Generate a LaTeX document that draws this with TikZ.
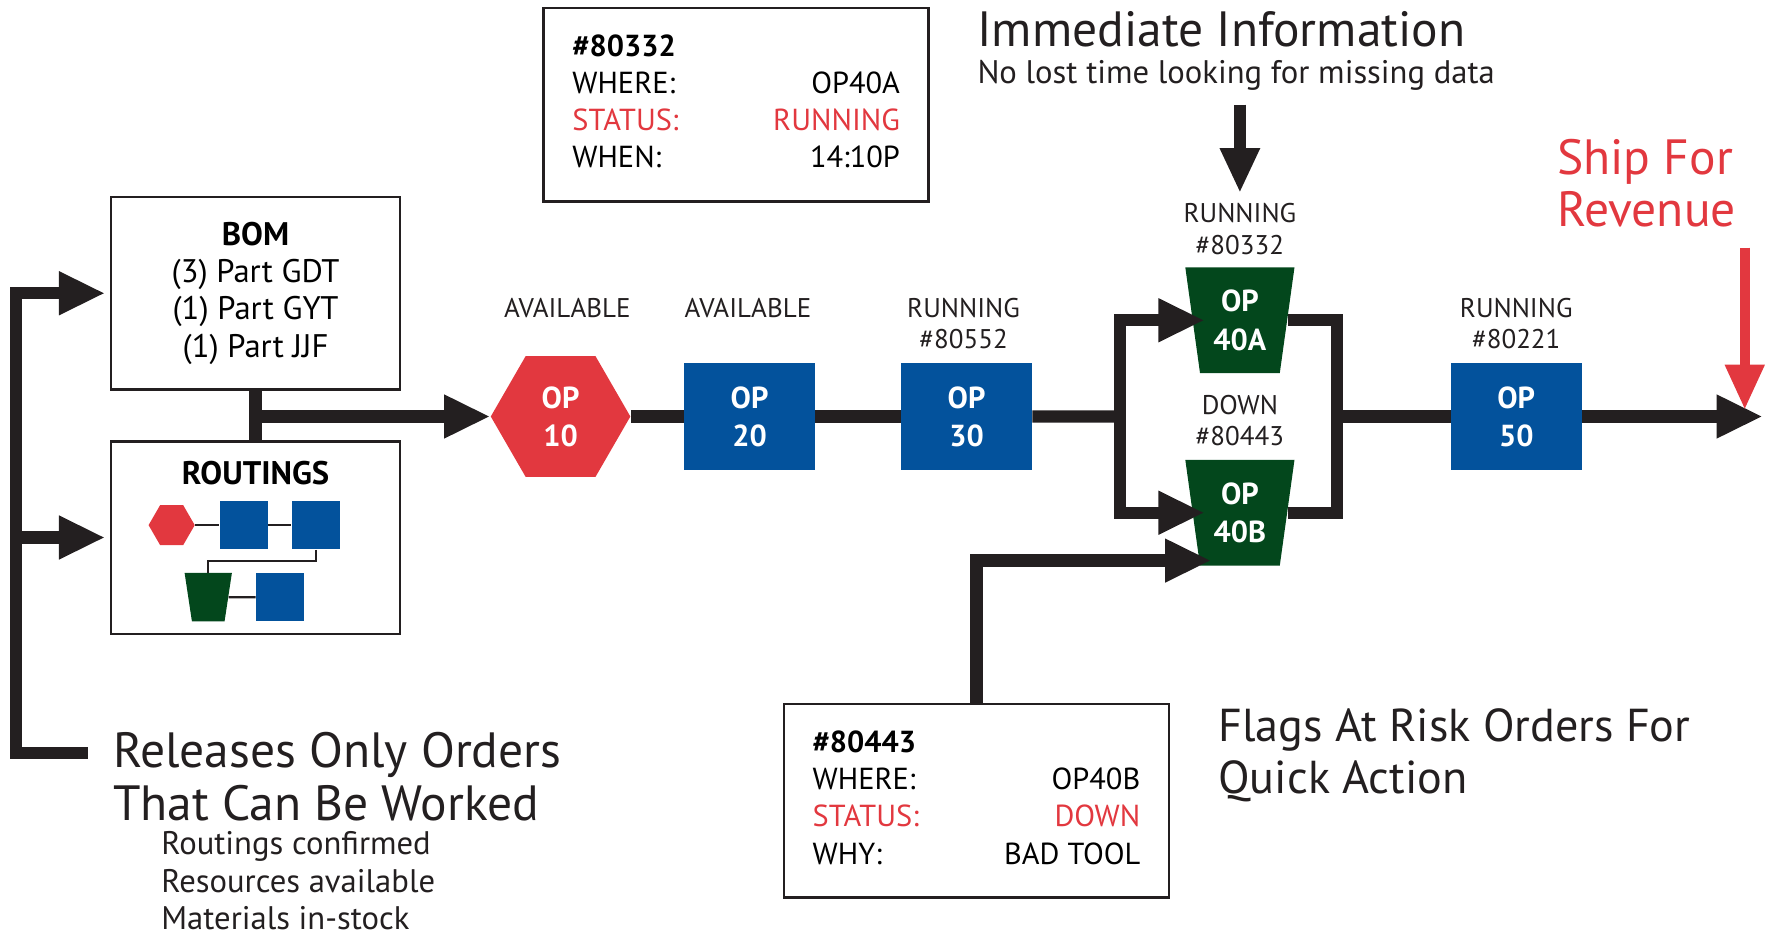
\documentclass[tikz,border=0pt]{standalone}
\usepackage{fontspec}
\setmainfont{PT Sans}
\usetikzlibrary{arrows.meta, positioning, shapes.geometric}
\definecolor{ink}{HTML}{231F20}
\definecolor{opred}{HTML}{E2383F}
\definecolor{opblue}{HTML}{03529C}
\definecolor{opgreen}{HTML}{03471C}
\tikzset{x=0.5pt, y=-0.5pt,
    line/.style={draw=ink, line width=5.5pt},
    flow/.style={line, -{Triangle[length=20.5pt,width=18pt]}},
    infoflow/.style={draw=ink, line width=5pt, -{Triangle[length=20pt,width=16.5pt]}},
    shipflow/.style={draw=opred, line width=4.5pt, -{Triangle[length=20pt,width=16.5pt]}},
    thinline/.style={draw=ink, line width=1pt},
    optext/.style={text=white, font=\fontsize{13.5}{17}\selectfont\bfseries, align=center},
    opbox/.style={rectangle, fill=opblue, minimum width=58pt, minimum height=47.5pt, inner sep=0pt, optext},
    ophex/.style={regular polygon, regular polygon sides=6, fill=opred, minimum size=62pt, inner sep=0pt, optext},
    optrap/.style={trapezium, trapezium angle=76.3, shape border rotate=180, trapezium stretches body,
        fill=opgreen, minimum width=48.5pt, minimum height=47pt, inner sep=0pt, optext},
    minibox/.style={rectangle, fill=opblue, minimum size=21.5pt, inner sep=0pt},
    minihex/.style={regular polygon, regular polygon sides=6, fill=opred, minimum size=20.5pt, inner sep=0pt},
    minitrap/.style={trapezium, trapezium angle=81.4, shape border rotate=180, trapezium stretches body,
        fill=opgreen, text height=21.5pt, text depth=0pt, minimum width=21pt, minimum height=21.5pt, inner sep=0pt},
    status/.style={font=\fontsize{12}{14}\selectfont, align=center, text=ink, inner sep=0pt, anchor=base},
    box/.style={draw=ink, line width=1.1pt, minimum width=128.5pt, minimum height=85.5pt, inner sep=0pt},
    infobox/.style={draw=ink, line width=1.1pt, minimum width=171pt, minimum height=86pt, inner sep=0pt,
        font=\fontsize{13.5}{16.5}\selectfont},
    bigtext/.style={font=\fontsize{22}{22}\selectfont, text=ink, inner sep=0pt, anchor=base west, align=left},
    smalltext/.style={font=\fontsize{14.5}{16.75}\selectfont, text=ink, inner sep=0pt, anchor=base west, align=left}}

\begin{document}
\begin{tikzpicture}
\useasboundingbox (0,0) rectangle (1568,832);

% header texts
\node[bigtext] (imminfo) at (868,41.6) {Immediate Information};
\node[smalltext] (nolost) at (868,74) {No lost time looking for missing data};
\node[bigtext, text=opred, font=\fontsize{22}{23}\selectfont] (ship) at (1383,201) {Ship For\\Revenue};
\node[bigtext, font=\fontsize{20.5}{23}\selectfont] (flags) at (1082,705) {Flags At Risk Orders For\\Quick Action};
\node[bigtext, font=\fontsize{22}{23.5}\selectfont, text depth=0pt] (releases) at (100,728.6) {Releases Only Orders\\That Can Be Worked};
\node[smalltext] (checks) at (143,826) {Routings confirmed\\Resources available\\Materials in-stock};

% order cards
\node[infobox] (where) at (654,93) {\begin{tabular*}{145.5pt}{@{}l@{\extracolsep{\fill}}r@{}}
    \textbf{\#80332} & \\
    WHERE: & OP40A\hspace{4pt}\\
    \textcolor{opred}{STATUS:} & \textcolor{opred}{RUNNING}\\
    WHEN: & 14:10P
    \end{tabular*}};
\node[infobox] (why) at (867.5,711.5) {\begin{tabular*}{145.5pt}{@{}l@{\extracolsep{\fill}}r@{}}
    \textbf{\#80443} & \\
    WHERE: & OP40B\\
    \textcolor{opred}{STATUS:} & \textcolor{opred}{DOWN}\\
    WHY: & BAD TOOL
    \end{tabular*}};

% bom and routings
\node[box, align=center, font=\fontsize{14.5}{16.5}\selectfont, yshift=1.5pt] (bom) at (227,263.5)
    {\textbf{BOM}\\(3) Part GDT\\(1) Part GYT\\(1) Part JJF};
\node[box] (rout) at (227,477.5) {};
\node[font=\fontsize{14.5}{16}\selectfont\bfseries, inner sep=0pt] (routlbl) at (227,420) {ROUTINGS};
\node[minihex]  (mhex)  at (152.5,466.5) {};
\node[minibox]  (mb1)   at (216.5,466.5) {};
\node[minibox]  (mb2)   at (280.5,466.5) {};
\node[minitrap] (mtrap) at (185,530.5) {};
\node[minibox]  (mb3)   at (249,530.5) {};
\draw[thinline] (mhex) -- (mb1) -- (mb2);
\draw[thinline] (mb2.south) -- ++(0,10) -| (mtrap.90);
\draw[thinline] (mtrap) -- (mb3);

% operations
\node[ophex]  (op10)  at (498,370) {OP\\10};
\node[opbox]  (op20)  [right=23.5pt of op10] {OP\\20};
\node[opbox]  (op30)  [right=38pt of op20] {OP\\30};
\node[optrap] (op40a) at (1101.5,284.5) {OP\\40A};
\node[optrap] (op40b) at (1101.5,455.5) {OP\\40B};
\node[opbox]  (op50)  at (1347,370) {OP\\50};

\node[status] (lbl10)  at (504,282)    {AVAILABLE};
\node[status] (lbl20)  at (664.5,282)  {AVAILABLE};
\node[status] (lbl30)  at (856,310)    {RUNNING\\\#80552};
\node[status] (lbl40a) at (1101.5,226) {RUNNING\\\#80332};
\node[status] (lbl40b) at (1101.5,396) {DOWN\\\#80443};
\node[status] (lbl50)  at (1347,310)   {RUNNING\\\#80221};

% connectors
\coordinate (relin) at (78,669);
\coordinate (trunk) at (14,669);
\coordinate (split) at (995,370);
\coordinate (merge) at (1188,370);
\coordinate (shipout) at (1566,370);
\coordinate (imm) at (1101.5,93);
\coordinate (shiptop) at (1550,220);
\coordinate (shipin) at (1550,364);
\coordinate (flagin) at (1076,498);

\draw[flow, shorten >=2pt] (relin) -- (trunk) |- (bom.west);
\draw[flow, shorten >=2pt] (trunk |- rout.west) -- (rout.west);
\draw[line] (bom.south) -- (rout.north);
\draw[flow] (bom.south |- op10.west) -- (op10.west);
\draw[line] (op10.east) -- (op20.west);
\draw[line] (op20.east) -- (op30.west);
\draw[line] (op30.east) -- (split);
\draw[flow, shorten >=-5.5pt] (split) |- (op40a.180);
\draw[flow, shorten >=-5.5pt] (split) |- (op40b.180);
\draw[line] (op40a.0) -| (merge) |- (op40b.0);
\draw[line] (merge) -- (op50.west);
\draw[flow] (op50.east) -- (shipout);
\draw[flow] (why.north) |- (flagin);
\draw[infoflow, shorten >=4.5pt] (imm) -- (lbl40a.north);
\draw[shipflow] (shiptop) -- (shipin);
\end{tikzpicture}
\end{document}
